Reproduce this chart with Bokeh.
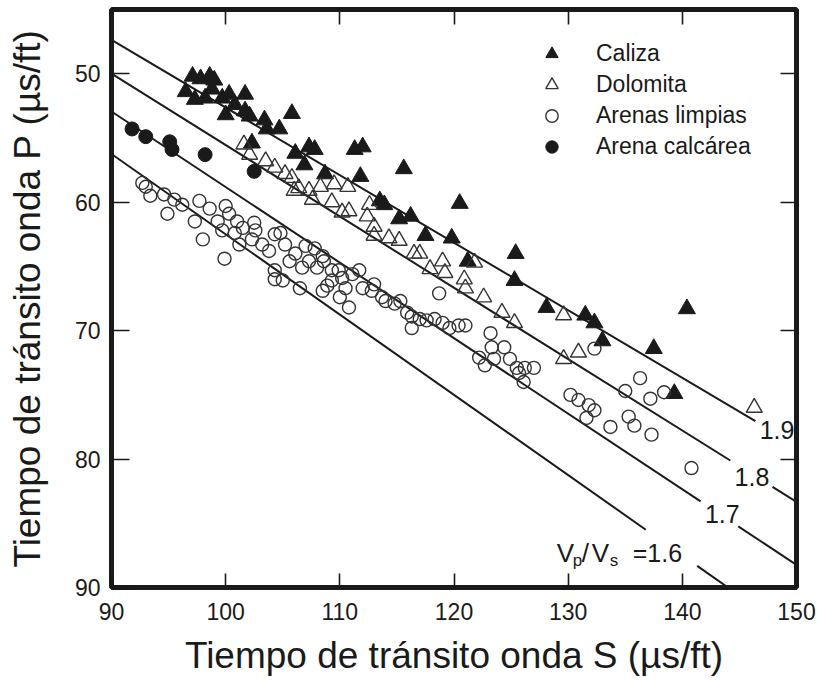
import numpy as np
from bokeh.plotting import figure
from bokeh.models import Range1d, LinearAxis, FixedTicker, Label, Legend, LegendItem
from bokeh.embed import file_html
from bokeh.resources import INLINE

FONT = "Liberation Sans"
INK = "#1a1a1a"

# ---------------- data ----------------
caliza_ts = [97.1, 97.8, 98.6, 99.0, 96.5, 97.3, 98.2, 98.8, 99.7, 100.3, 100.0, 100.8,
             101.7, 101.7, 102.1, 103.4, 103.6, 104.7, 105.8, 107.3, 107.8, 106.1, 106.9,
             102.3, 108.7, 111.3, 112.0, 111.8, 115.6, 113.5, 113.9, 115.2, 116.2, 120.5,
             117.5, 119.8, 121.2, 125.4, 125.3, 128.1, 131.5, 132.3, 133.0, 137.5, 140.4, 139.3]
caliza_tp = [50.2, 50.4, 50.2, 50.5, 51.4, 52.0, 51.9, 51.2, 51.9, 51.6, 53.2, 52.4,
             51.6, 52.9, 53.3, 53.6, 54.3, 54.3, 53.1, 55.7, 55.9, 56.2, 57.1,
             55.4, 57.8, 55.9, 55.7, 58.0, 57.4, 59.9, 60.2, 61.3, 61.1, 60.1,
             62.6, 62.8, 64.6, 64.0, 66.1, 68.2, 68.8, 69.4, 70.8, 71.4, 68.3, 74.9]

dolomita_ts = [101.6, 102.1, 103.5, 104.3, 105.2, 105.8, 106.0, 106.4, 107.3, 107.6, 108.3,
               109.5, 109.3, 110.2, 110.7, 110.8, 112.6, 112.4, 113.0, 113.0, 114.3, 115.2,
               116.5, 117.0, 117.9, 119.0, 119.2, 120.9, 121.8, 122.6, 121.0, 124.2, 125.3,
               129.6, 129.6, 130.9, 146.3]
dolomita_tp = [55.5, 56.3, 56.8, 57.3, 57.8, 58.1, 59.1, 58.9, 59.1, 59.8, 58.8,
               58.6, 60.0, 60.8, 58.8, 60.7, 60.2, 61.1, 61.9, 62.6, 62.8, 63.0,
               64.0, 64.0, 65.2, 64.6, 65.5, 66.0, 64.7, 67.4, 66.7, 68.6, 69.4,
               68.8, 72.2, 71.7, 76.0]

arenas_ts = [92.7, 93.0, 93.4, 94.6, 95.5, 96.2, 94.9, 97.7, 98.6, 100.0, 100.3, 97.3,
             99.3, 99.7, 101.0, 101.5, 102.5, 102.6, 100.8, 98.0, 101.2, 102.3, 103.2,
             103.8, 104.3, 104.8, 105.2, 106.1, 107.0, 107.8, 107.3, 106.7, 108.0, 108.6,
             109.3, 110.2, 108.9, 99.9, 104.3, 105.0, 106.5, 110.0, 110.8, 104.3, 105.6,
             108.5, 109.9, 111.1, 111.7, 109.3, 110.5, 112.0, 112.8, 108.5, 113.7,
             113.0, 114.0, 114.8, 115.3, 115.9, 116.3, 117.0, 117.6, 118.3, 118.7, 119.0,
             119.6, 116.3,
             120.4, 121.0, 123.2, 123.3, 124.4, 122.2, 122.7, 123.5, 124.9, 125.5, 125.7,
             126.2, 127.0, 126.1, 130.2, 130.9, 131.8, 132.3, 131.6, 133.7, 135.3, 135.8,
             137.3, 135.0, 136.3, 137.2, 138.4, 132.3, 140.8]
arenas_tp = [58.5, 58.8, 59.5, 59.4, 59.8, 60.2, 60.9, 59.9, 60.5, 60.3, 60.9, 61.5,
             61.5, 62.2, 61.5, 62.0, 61.6, 62.2, 62.4, 62.9, 63.3, 62.9, 63.3,
             63.8, 62.5, 62.4, 63.3, 64.0, 63.4, 63.6, 64.6, 65.1, 65.1, 64.6,
             65.3, 65.9, 66.5, 64.4, 66.0, 66.1, 66.7, 67.4, 68.2, 65.3, 64.6,
             64.2, 65.3, 65.6, 65.3, 66.1, 66.7, 66.7, 66.9, 66.9, 67.4,
             66.4, 67.7, 67.9, 67.7, 68.6, 68.9, 69.1, 69.2, 69.1, 67.1, 69.4,
             69.8, 69.8,
             69.6, 69.6, 70.2, 71.3, 71.3, 72.1, 72.7, 72.2, 72.2, 72.9, 73.3,
             72.9, 72.9, 74.0, 75.0, 75.4, 75.8, 76.2, 76.8, 77.5, 76.7, 77.4,
             78.1, 74.7, 73.7, 75.3, 74.8, 71.4, 80.7]

calcarea_ts = [91.8, 93.0, 95.1, 95.3, 98.2, 102.5]
calcarea_tp = [54.3, 54.9, 55.3, 55.9, 56.3, 57.6]

x_ticks = [90, 100, 110, 120, 130, 140, 150]
y_ticks = [50, 60, 70, 80, 90]

# Vp/Vs reference lines: Tp = Ts / ratio
ratios = [1.9, 1.8, 1.7, 1.6]
ratio_texts = ["1.9", "1.8", "1.7"]
# drawn Ts spans (the gaps leave room for the labels)
line_spans = {1.9: [(90, 146.4)],
              1.8: [(90, 144.2), (147.9, 150)],
              1.7: [(90, 141.6), (144.9, 150)],
              1.6: [(90, 136.8), (141.3, 150)]}
label_spots = {"1.9": (148.3, 77.7), "1.8": (146.1, 81.4), "1.7": (143.5, 84.3)}
vpvs_anchor = (129.0, 87.3)

# ---------------- figure ----------------
p = figure(width=817, height=680, x_range=Range1d(90, 150), y_range=Range1d(90, 45),
           output_backend="svg", toolbar_location=None,
           min_border_left=111, min_border_right=21, min_border_top=9, min_border_bottom=93)
p.grid.visible = False
p.outline_line_color = INK
p.outline_line_width = 5
p.background_fill_color = "white"
p.border_fill_color = "white"

for r in ratios:
    for a, b in line_spans[r]:
        ts = np.array([a, b])
        p.line(ts, ts / r, line_color=INK, line_width=2)

r_cal = p.scatter(caliza_ts, caliza_tp, marker="triangle", size=17,
                  fill_color=INK, line_color=INK, line_width=1)
r_dol = p.scatter(dolomita_ts, dolomita_tp, marker="triangle", size=16,
                  fill_color=None, line_color="#333333", line_width=1.4)
r_are = p.scatter(arenas_ts, arenas_tp, marker="circle", size=13,
                  fill_color=None, line_color="#333333", line_width=1.4)
r_calc = p.scatter(calcarea_ts, calcarea_tp, marker="circle", size=14,
                   fill_color=INK, line_color=INK)

# axes
def style_axis(ax, tick_in, labels=True):
    ax.axis_line_color = None
    ax.major_tick_in = tick_in
    ax.major_tick_out = 0
    ax.major_tick_line_color = INK
    ax.major_tick_line_width = 1.6
    ax.minor_tick_line_color = None
    if labels:
        ax.major_label_text_font = FONT
        ax.major_label_text_font_size = "23px"
        ax.major_label_text_color = INK
        ax.axis_label_text_font = FONT
        ax.axis_label_text_font_size = "37px"
        ax.axis_label_text_font_style = "normal"
        ax.axis_label_text_color = INK
    else:
        ax.major_label_text_font_size = "1px"
        ax.major_label_text_color = None
        ax.major_label_standoff = 0

xa = p.xaxis[0]
xa.ticker = FixedTicker(ticks=x_ticks)
xa.axis_label = "Tiempo de tránsito onda S (µs/ft)"
style_axis(xa, 14)
xa.major_label_standoff = 15
xa.axis_label_standoff = 12

ya = p.yaxis[0]
ya.ticker = FixedTicker(ticks=y_ticks)
ya.axis_label = "Tiempo de tránsito onda P (µs/ft)"
style_axis(ya, 18)
ya.major_label_standoff = 11
ya.axis_label_standoff = 24

top = LinearAxis(ticker=FixedTicker(ticks=x_ticks[1:-1]))
style_axis(top, 15, labels=False)
p.add_layout(top, "above")
right = LinearAxis(ticker=FixedTicker(ticks=y_ticks[:-1]))
style_axis(right, 16, labels=False)
p.add_layout(right, "right")

# line labels
for t in ratio_texts:
    x, y = label_spots[t]
    p.add_layout(Label(x=x, y=y, text=t, text_align="center", text_baseline="middle",
                       text_font=FONT, text_font_size="25px", text_color=INK))

ax0, ay0 = vpvs_anchor
pieces = [("V", 0, 0, "26px"), ("p", 16, -8, "17px"), ("/", 25, 0, "26px"),
          ("V", 35, 0, "26px"), ("s", 53, -8, "17px"), ("=1.6", 76, 0, "25px")]
for t, dx, dy, fs in pieces:
    p.add_layout(Label(x=ax0, y=ay0, x_offset=dx, y_offset=dy, text=t,
                       text_align="left", text_baseline="alphabetic",
                       text_font=FONT, text_font_size=fs, text_color=INK))

legend = Legend(items=[LegendItem(label="Caliza", renderers=[r_cal]),
                       LegendItem(label="Dolomita", renderers=[r_dol]),
                       LegendItem(label="Arenas limpias", renderers=[r_are]),
                       LegendItem(label="Arena calcárea", renderers=[r_calc])],
                location=(425, 425), glyph_width=31, glyph_height=31, spacing=0,
                label_standoff=29, padding=0, margin=0,
                border_line_color=None, background_fill_alpha=0,
                label_text_font=FONT, label_text_font_size="23px", label_text_color=INK)
p.add_layout(legend)

open("out.html", "w").write(file_html(p, INLINE))
